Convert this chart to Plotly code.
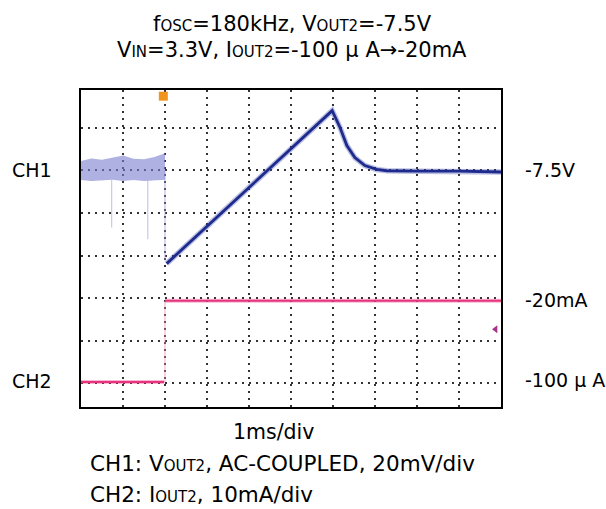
import plotly.graph_objects as go

# scope screen in divisions: x = 1ms/div, y = div (0 = centre gridline)
# CH1 before the load step: noisy band (upper / lower edge) plus two glitches
bandX = [0, 0.25, 0.5, 0.75, 1.0, 1.25, 1.5, 1.75, 2.0]
bandUp = [2.22, 2.28, 2.25, 2.3, 2.35, 2.27, 2.26, 2.31, 2.4]
bandLo = [1.77, 1.75, 1.76, 1.78, 1.75, 1.77, 1.75, 1.76, 1.78]
spikeX = [0.73, 1.59]
spikeBottom = [0.66, 0.38]

# CH1 after the step: ramp, peak, decay back to -7.5V
stepX = [2.0, 2.0]
stepY = [2.0, -0.12]
ch1X = [2.04, 5.98, 6.17, 6.33, 6.52, 6.76, 7.04, 7.28, 8.0, 9.0, 10.0]
ch1Y = [-0.19, 3.40, 3.00, 2.58, 2.30, 2.11, 2.02, 1.99, 1.98, 1.98, 1.96]

# CH2 (load current)
ch2LowX = [0, 1.98]
ch2LowY = [-2.97, -2.97]
ch2HighX = [2.0, 10.0]
ch2HighY = [-1.06, -1.06]

trigX = 1.96
refArrowY = -1.73

navy = "#1d2b8e"
pink = "#e8347f"
fontFam = "DejaVu Sans, Liberation Sans, Arial, sans-serif"
titleSz = 21
labelSz = 19
noteSz = 21.5
smallSz = 15

fig = go.Figure()

# noisy band before trigger
fig.add_trace(go.Scatter(x=bandX + bandX[::-1], y=bandUp + bandLo[::-1], fill="toself",
                         fillcolor="rgba(120,125,205,0.6)", line=dict(width=0), mode="lines",
                         hoverinfo="skip"))
for sx, sb in zip(spikeX, spikeBottom):
    fig.add_trace(go.Scatter(x=[sx, sx], y=[1.77, sb], mode="lines",
                             line=dict(color="rgba(150,155,220,0.55)", width=1.2)))

# faint vertical transitions
fig.add_trace(go.Scatter(x=stepX, y=stepY, mode="lines",
                         line=dict(color="rgba(150,155,220,0.6)", width=1.2)))
fig.add_trace(go.Scatter(x=[2.0, 2.0], y=[-2.97, -1.06], mode="lines",
                         line=dict(color="rgba(240,140,180,0.6)", width=1.2)))

# fuzz under the main CH1 line, then the line itself
fig.add_trace(go.Scatter(x=ch1X, y=ch1Y, mode="lines",
                         line=dict(color="rgba(60,70,170,0.35)", width=5.5)))
fig.add_trace(go.Scatter(x=ch1X, y=ch1Y, mode="lines", line=dict(color=navy, width=2.8)))

for cx, cy in [(ch2LowX, ch2LowY), (ch2HighX, ch2HighY)]:
    fig.add_trace(go.Scatter(x=cx, y=cy, mode="lines",
                             line=dict(color="rgba(232,52,127,0.35)", width=4)))
    fig.add_trace(go.Scatter(x=cx, y=cy, mode="lines", line=dict(color=pink, width=2)))

# trigger marker and CH2 reference arrow
fig.add_trace(go.Scatter(x=[trigX], y=[3.74], mode="markers",
                         marker=dict(symbol="square", size=9, color="#f0961e", line=dict(width=0))))
fig.add_trace(go.Scatter(x=[9.87], y=[refArrowY], mode="markers",
                         marker=dict(symbol="triangle-left", size=7, color="#a8348a")))

def px2x(px):
    return (px - 81) / 420

def py2y(py):
    return (407 - py) / 317

small = "<span style='font-size:%spx'>%s</span>"
annots = [
    ("f" + small % (smallSz, "OSC") + "=180kHz, V" + small % (smallSz, "OUT2") + "=-7.5V", 292, 24, "center", titleSz),
    ("V" + small % (smallSz, "IN") + "=3.3V, I" + small % (smallSz, "OUT2") + "=-100 μ A→-20mA", 292, 50, "center", titleSz),
    ("CH1", 10, 170, "left", labelSz),
    ("CH2", 10, 381, "left", labelSz),
    ("-7.5V", 523, 170, "left", labelSz),
    ("-20mA", 523, 300, "left", labelSz),
    ("-100 μ A", 523, 380, "left", labelSz),
    ("1ms/div", 273, 432, "center", 20.5),
    ("CH1: V" + small % (smallSz, "OUT2") + ", AC-COUPLED, 20mV/div", 88, 463, "left", noteSz),
    ("CH2: I" + small % (smallSz, "OUT2") + ", 10mA/div", 88, 494, "left", noteSz),
]
for txt, ax, ay, anchor, sz in annots:
    fig.add_annotation(text=txt, x=px2x(ax), y=py2y(ay), xref="paper", yref="paper",
                       xanchor=anchor, yanchor="middle", showarrow=False,
                       font=dict(family=fontFam, size=sz, color="black"))

fig.update_layout(width=606, height=509, margin=dict(l=81, r=105, t=90, b=102),
                  plot_bgcolor="white", paper_bgcolor="white", showlegend=False,
                  font=dict(family=fontFam))
fig.update_xaxes(range=[0, 10], tick0=0, dtick=1, showticklabels=False, ticks="",
                 showgrid=True, gridcolor="#333", gridwidth=1.5, griddash="2px,5px",
                 zeroline=False, showline=True, mirror=True, linecolor="black", linewidth=1.5)
fig.update_yaxes(range=[-3.556, 3.885], tick0=0, dtick=1, showticklabels=False, ticks="",
                 showgrid=True, gridcolor="#333", gridwidth=1.5, griddash="2px,5px",
                 zeroline=False, showline=True, mirror=True, linecolor="black", linewidth=1.5)

fig.write_html("out.html", config={"displayModeBar": False},
               post_script="document.body.style.margin='0px';")
